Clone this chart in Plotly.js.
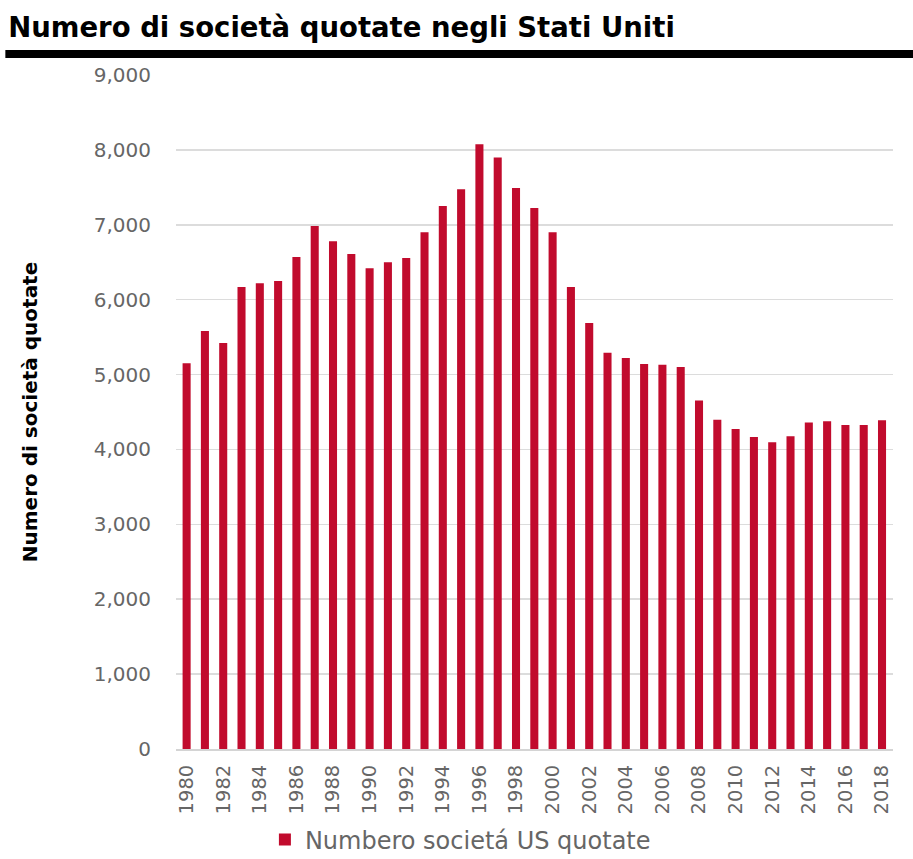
<!DOCTYPE html>
<html>
<head>
<meta charset="utf-8">
<script src="https://cdn.plot.ly/plotly-3.0.1.min.js"></script>
<style>html,body{margin:0;padding:0;background:#fff;}#chart{width:913px;height:859px;}</style>
</head>
<body>
<div id="chart"></div>
<script>
const years = [1980,1981,1982,1983,1984,1985,1986,1987,1988,1989,1990,1991,1992,1993,1994,1995,1996,1997,1998,1999,2000,2001,2002,2003,2004,2005,2006,2007,2008,2009,2010,2011,2012,2013,2014,2015,2016,2017,2018];
const listedCompanies = [5150,5580,5420,6170,6220,6250,6570,6985,6780,6610,6420,6500,6555,6900,7250,7475,8075,7900,7490,7225,6900,6170,5690,5290,5220,5140,5130,5100,4655,4395,4272,4165,4095,4175,4360,4377,4326,4326,4390];
const tickYears = [1980,1982,1984,1986,1988,1990,1992,1994,1996,1998,2000,2002,2004,2006,2008,2010,2012,2014,2016,2018];
const yTicks = [0,1000,2000,3000,4000,5000,6000,7000,8000,9000];
const yTickLabels = ['0','1,000','2,000','3,000','4,000','5,000','6,000','7,000','8,000','9,000'];

const trace = {
  type: 'bar',
  x: years,
  y: listedCompanies,
  name: 'Numbero societá US quotate',
  marker: {color: '#c10b2d'},
  hoverinfo: 'x+y'
};

const layout = {
  width: 913,
  height: 859,
  margin: {l: 176, r: 20, t: 75, b: 110},
  paper_bgcolor: '#ffffff',
  plot_bgcolor: '#ffffff',
  bargap: 0.56,
  title: {
    text: 'Numero di società quotate negli Stati Uniti',
    font: {family: 'DejaVu Sans', size: 27.5, color: '#000000', weight: 'bold'},
    xref: 'container', x: 0.009, xanchor: 'left',
    yref: 'container', y: 0.968, yanchor: 'middle'
  },
  xaxis: {
    range: [1979.42, 2018.6],
    tickmode: 'array',
    tickvals: tickYears,
    ticktext: tickYears.map(String),
    tickangle: -90,
    tickfont: {family: 'DejaVu Sans', size: 19.5, color: '#666666'},
    ticks: '',
    ticklabelstandoff: 6,
    showgrid: false,
    showline: true,
    linecolor: '#d4d4d4',
    linewidth: 2,
    zeroline: false,
    automargin: false,
    fixedrange: true
  },
  yaxis: {
    range: [0, 9000],
    tickmode: 'array',
    tickvals: yTicks,
    ticktext: yTickLabels,
    tickfont: {family: 'DejaVu Sans', size: 20, color: '#666666'},
    ticks: '',
    ticklabelstandoff: 24,
    showgrid: true,
    gridcolor: '#dcdcdc',
    gridwidth: 1.5,
    zeroline: false,
    showline: false,
    automargin: false,
    title: {
      text: 'Numero di società quotate',
      font: {family: 'DejaVu Sans', size: 20, color: '#000000', weight: 'bold'},
      standoff: 50
    },
    fixedrange: true
  },
  showlegend: true,
  legend: {
    orientation: 'h',
    xref: 'paper',
    x: 0.124, xanchor: 'left',
    yref: 'container',
    y: 1 - 840 / 859, yanchor: 'middle',
    font: {family: 'DejaVu Sans', size: 24, color: '#666666'},
    itemwidth: 30,
    bgcolor: 'rgba(0,0,0,0)'
  },
  shapes: [{
    type: 'rect',
    xref: 'paper', yref: 'paper',
    x0: -0.238, x1: 1.03,
    y0: (749 - 58) / 674, y1: (749 - 50) / 674,
    fillcolor: '#000000',
    line: {width: 0}
  }]
};

Plotly.newPlot('chart', [trace], layout, {displayModeBar: false, staticPlot: true});
</script>
</body>
</html>
